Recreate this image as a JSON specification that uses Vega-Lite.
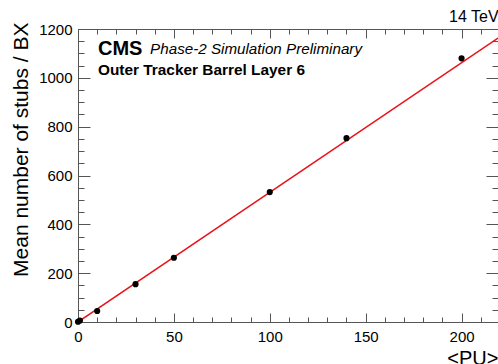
{
  "$schema": "https://vega.github.io/schema/vega-lite/v6.json",
  "width": 420,
  "height": 293,
  "autosize": {"type": "none"},
  "padding": {"left": 78, "top": 29, "right": 0, "bottom": 42},
  "background": "white",
  "config": {
    "font": "Liberation Sans",
    "view": {"stroke": "#555555", "strokeWidth": 1},
    "axis": {"domain": false, "grid": false, "tickColor": "#555555", "tickWidth": 1, "labelFont": "Liberation Sans", "titleFont": "Liberation Sans", "labelColor": "#000000", "titleColor": "#000000", "titleFontWeight": "normal", "format": "d"}
  },
  "datasets": {
    "points": [
      {"pu": 0, "stubs": 1},
      {"pu": 1, "stubs": 6},
      {"pu": 10, "stubs": 45},
      {"pu": 30, "stubs": 155},
      {"pu": 50, "stubs": 263},
      {"pu": 100, "stubs": 532},
      {"pu": 140, "stubs": 753},
      {"pu": 200, "stubs": 1080}
    ],
    "fit": [
      {"pu": 0, "stubs": 0},
      {"pu": 219, "stubs": 1163}
    ],
    "one": [{}]
  },
  "resolve": {"axis": {"x": "independent", "y": "independent"}},
  "layer": [
    {
      "data": {"name": "fit"},
      "mark": {"type": "line", "color": "#e8141a", "strokeWidth": 1.5, "clip": true},
      "encoding": {
        "x": {"field": "pu", "type": "quantitative", "scale": {"domain": [0, 219], "nice": false, "zero": false},
              "axis": {"orient": "bottom", "values": [0, 50, 100, 150, 200], "format": "d", "tickSize": -9, "labelFontSize": 15, "labelPadding": 16, "labelBaseline": "top", "labelFlush": false, "title": "<PU>", "titleFontSize": 20, "titleAnchor": "end", "titlePadding": 4}},
        "y": {"field": "stubs", "type": "quantitative", "scale": {"domain": [0, 1200], "nice": false, "zero": false},
              "axis": {"orient": "left", "values": [0, 200, 400, 600, 800, 1000, 1200], "format": "d", "tickSize": -12, "labelFontSize": 15, "labelPadding": 18, "labelFlush": false, "title": "Mean number of stubs / BX", "titleFontSize": 21, "titleAnchor": "end", "titleY": -7, "titlePadding": 7}}
      }
    },
    {
      "data": {"name": "points"},
      "mark": {"type": "circle", "color": "#000000", "size": 38, "opacity": 1},
      "encoding": {
        "x": {"field": "pu", "type": "quantitative", "scale": {"domain": [0, 219], "nice": false, "zero": false},
              "axis": {"orient": "bottom", "values": [10, 20, 30, 40, 60, 70, 80, 90, 110, 120, 130, 140, 160, 170, 180, 190, 210], "tickSize": -5, "labels": false, "title": null}},
        "y": {"field": "stubs", "type": "quantitative", "scale": {"domain": [0, 1200], "nice": false, "zero": false},
              "axis": {"orient": "left", "values": [50, 100, 150, 250, 300, 350, 450, 500, 550, 650, 700, 750, 850, 900, 950, 1050, 1100, 1150], "tickSize": -6, "labels": false, "title": null}}
      }
    },
    {
      "data": {"name": "one"},
      "mark": {"type": "text", "text": "CMS", "align": "left", "baseline": "alphabetic", "fontSize": 20, "fontWeight": "bold", "font": "Liberation Sans", "color": "#000000"},
      "encoding": {
        "x": {"datum": 10.4, "type": "quantitative", "scale": {"domain": [0, 219], "nice": false, "zero": false},
              "axis": {"orient": "top", "values": [0, 50, 100, 150, 200], "tickSize": -9, "labels": false, "title": null}},
        "y": {"datum": 1093, "type": "quantitative", "scale": {"domain": [0, 1200], "nice": false, "zero": false},
              "axis": {"orient": "right", "values": [0, 200, 400, 600, 800, 1000, 1200], "tickSize": -12, "labels": false, "title": null}}
      }
    },
    {
      "data": {"name": "one"},
      "mark": {"type": "text", "text": "Phase-2 Simulation Preliminary", "align": "left", "baseline": "alphabetic", "fontSize": 15.2, "fontStyle": "italic", "font": "Liberation Sans", "color": "#000000"},
      "encoding": {
        "x": {"datum": 37.6, "type": "quantitative", "scale": {"domain": [0, 219], "nice": false, "zero": false},
              "axis": {"orient": "top", "values": [10, 20, 30, 40, 60, 70, 80, 90, 110, 120, 130, 140, 160, 170, 180, 190, 210], "tickSize": -5, "labels": false, "title": null}},
        "y": {"datum": 1097, "type": "quantitative", "scale": {"domain": [0, 1200], "nice": false, "zero": false},
              "axis": {"orient": "right", "values": [50, 100, 150, 250, 300, 350, 450, 500, 550, 650, 700, 750, 850, 900, 950, 1050, 1100, 1150], "tickSize": -6, "labels": false, "title": null}}
      }
    },
    {
      "data": {"name": "one"},
      "mark": {"type": "text", "text": "Outer Tracker Barrel Layer 6", "align": "left", "baseline": "alphabetic", "fontSize": 15.4, "fontWeight": "bold", "font": "Liberation Sans", "color": "#000000"},
      "encoding": {
        "x": {"datum": 10.4, "type": "quantitative", "scale": {"domain": [0, 219], "nice": false, "zero": false}, "axis": null},
        "y": {"datum": 1011, "type": "quantitative", "scale": {"domain": [0, 1200], "nice": false, "zero": false}, "axis": null}
      }
    },
    {
      "data": {"name": "one"},
      "mark": {"type": "text", "text": "14 TeV", "align": "left", "baseline": "alphabetic", "fontSize": 16, "font": "Liberation Sans", "color": "#000000"},
      "encoding": {
        "x": {"datum": 193.5, "type": "quantitative", "scale": {"domain": [0, 219], "nice": false, "zero": false}, "axis": null},
        "y": {"datum": 1229, "type": "quantitative", "scale": {"domain": [0, 1200], "nice": false, "zero": false}, "axis": null}
      }
    }
  ]
}
